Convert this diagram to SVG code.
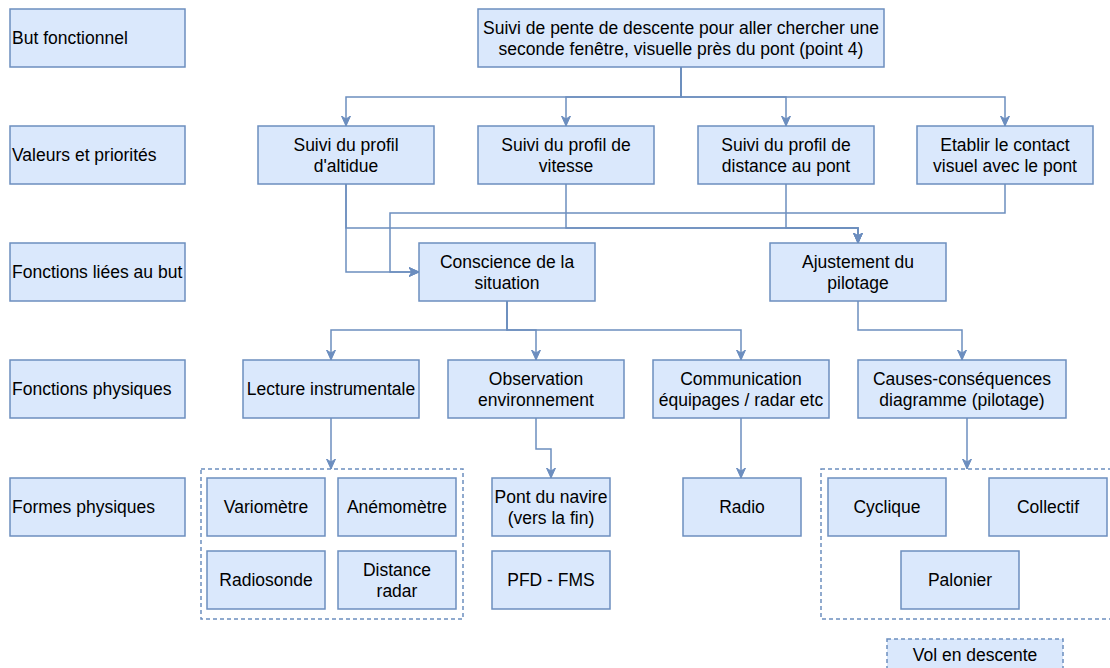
<svg xmlns="http://www.w3.org/2000/svg" width="1110" height="668" viewBox="0 0 1110 668">
<defs>
<style>
.n{fill:#dae8fc;stroke:#6c8ebf;stroke-width:1.5}
.d{fill:#dae8fc;stroke:#6c8ebf;stroke-width:1.5;stroke-dasharray:4 3}
.g{fill:none;stroke:#6c8ebf;stroke-width:1.5;stroke-dasharray:4 3}
.t{font-family:"Liberation Sans",Arial,sans-serif;font-size:17.5px;fill:#000;text-anchor:middle}
.l{font-family:"Liberation Sans",Arial,sans-serif;font-size:17.5px;fill:#000}
.c{fill:none;stroke:#6c8ebf;stroke-width:1.5}
</style>
<marker id="a" viewBox="0 0 10 10" refX="10" refY="5" markerWidth="10" markerHeight="10" markerUnits="userSpaceOnUse" orient="auto">
<path d="M0,0.5 L10,5 L0,9.5 L3,5 Z" fill="#6c8ebf" stroke="#6c8ebf" stroke-width="1"/>
</marker>
</defs>
<rect width="1110" height="668" fill="#ffffff"/>

<g id="connectors">
<path class="c" marker-end="url(#a)" d="M681,67 V97 H346 V126"/>
<path class="c" marker-end="url(#a)" d="M681,67 V97 H566 V126"/>
<path class="c" marker-end="url(#a)" d="M681,67 V97 H786 V126"/>
<path class="c" marker-end="url(#a)" d="M681,67 V97 H1005 V126"/>
<path class="c" marker-end="url(#a)" d="M346,184 V272 H419"/>
<path class="c" marker-end="url(#a)" d="M346,184 V228 H858 V243"/>
<path class="c" marker-end="url(#a)" d="M566,184 V228 H858 V243"/>
<path class="c" marker-end="url(#a)" d="M786,184 V228 H858 V243"/>
<path class="c" marker-end="url(#a)" d="M1005,184 V213 H390 V272 H419"/>
<path class="c" marker-end="url(#a)" d="M507,301 V330 H331 V360"/>
<path class="c" marker-end="url(#a)" d="M507,301 V330 H536 V360"/>
<path class="c" marker-end="url(#a)" d="M507,301 V330 H741 V360"/>
<path class="c" marker-end="url(#a)" d="M858,301 V330 H962 V360"/>
<path class="c" marker-end="url(#a)" d="M331,418 V469"/>
<path class="c" marker-end="url(#a)" d="M536,418 V449 H551 V478"/>
<path class="c" marker-end="url(#a)" d="M741,418 V478"/>
<path class="c" marker-end="url(#a)" d="M967,418 V469"/>
</g>

<g id="lbl1"><rect class="n" x="10" y="9" width="175" height="58"/><text class="l" x="12" y="44">But fonctionnel</text></g>
<g id="lbl2"><rect class="n" x="10" y="126" width="175" height="58"/><text class="l" x="12" y="161">Valeurs et priorités</text></g>
<g id="lbl3"><rect class="n" x="10" y="243" width="175" height="58"/><text class="l" x="12" y="278">Fonctions liées au but</text></g>
<g id="lbl4"><rect class="n" x="10" y="360" width="175" height="58"/><text class="l" x="12" y="395">Fonctions physiques</text></g>
<g id="lbl5"><rect class="n" x="10" y="478" width="175" height="58"/><text class="l" x="12" y="513">Formes physiques</text></g>

<g id="goal"><rect class="n" x="478" y="9" width="406" height="58"/><text class="t" x="681" y="33.5">Suivi de pente de descente pour aller chercher une</text><text class="t" x="681" y="54.5">seconde fenêtre, visuelle près du pont (point 4)</text></g>

<g id="altitude"><rect class="n" x="258" y="126" width="176" height="58"/><text class="t" x="346" y="151">Suivi du profil</text><text class="t" x="346" y="172">d'altidue</text></g>
<g id="vitesse"><rect class="n" x="478" y="126" width="176" height="58"/><text class="t" x="566" y="151">Suivi du profil de</text><text class="t" x="566" y="172">vitesse</text></g>
<g id="distance"><rect class="n" x="698" y="126" width="176" height="58"/><text class="t" x="786" y="151">Suivi du profil de</text><text class="t" x="786" y="172">distance au pont</text></g>
<g id="contact"><rect class="n" x="917" y="126" width="176" height="58"/><text class="t" x="1005" y="151">Etablir le contact</text><text class="t" x="1005" y="172">visuel avec le pont</text></g>

<g id="conscience"><rect class="n" x="419" y="243" width="176" height="58"/><text class="t" x="507" y="268">Conscience de la</text><text class="t" x="507" y="289">situation</text></g>
<g id="ajustement"><rect class="n" x="770" y="243" width="176" height="58"/><text class="t" x="858" y="268">Ajustement du</text><text class="t" x="858" y="289">pilotage</text></g>

<g id="lecture"><rect class="n" x="243" y="360" width="176" height="58"/><text class="t" x="331" y="395">Lecture instrumentale</text></g>
<g id="observation"><rect class="n" x="448" y="360" width="176" height="58"/><text class="t" x="536" y="385">Observation</text><text class="t" x="536" y="406">environnement</text></g>
<g id="communication"><rect class="n" x="653" y="360" width="176" height="58"/><text class="t" x="741" y="385">Communication</text><text class="t" x="741" y="406">équipages / radar etc</text></g>
<g id="causes"><rect class="n" x="858" y="360" width="208" height="58"/><text class="t" x="962" y="385">Causes-conséquences</text><text class="t" x="962" y="406">diagramme (pilotage)</text></g>

<g id="instruments"><rect class="g" x="201" y="469" width="262" height="150"/></g>
<g id="variometre"><rect class="n" x="207" y="478" width="118" height="58"/><text class="t" x="266" y="513">Variomètre</text></g>
<g id="anemometre"><rect class="n" x="338" y="478" width="118" height="58"/><text class="t" x="397" y="513">Anémomètre</text></g>
<g id="radiosonde"><rect class="n" x="207" y="551" width="118" height="58"/><text class="t" x="266" y="586">Radiosonde</text></g>
<g id="distanceradar"><rect class="n" x="338" y="551" width="118" height="58"/><text class="t" x="397" y="576">Distance</text><text class="t" x="397" y="597">radar</text></g>

<g id="pont"><rect class="n" x="492" y="478" width="118" height="58"/><text class="t" x="551" y="503">Pont du navire</text><text class="t" x="551" y="524">(vers la fin)</text></g>
<g id="pfd"><rect class="n" x="492" y="551" width="118" height="58"/><text class="t" x="551" y="586">PFD - FMS</text></g>
<g id="radio"><rect class="n" x="683" y="478" width="118" height="58"/><text class="t" x="742" y="513">Radio</text></g>

<g id="commandes"><rect class="g" x="821" y="469" width="295" height="150"/></g>
<g id="cyclique"><rect class="n" x="828" y="478" width="118" height="58"/><text class="t" x="887" y="513">Cyclique</text></g>
<g id="collectif"><rect class="n" x="989" y="478" width="118" height="58"/><text class="t" x="1048" y="513">Collectif</text></g>
<g id="palonier"><rect class="n" x="901" y="551" width="118" height="58"/><text class="t" x="960" y="586">Palonier</text></g>

<g id="vol"><rect class="d" x="887" y="639" width="176" height="32"/><text class="t" x="975" y="661">Vol en descente</text></g>
</svg>
